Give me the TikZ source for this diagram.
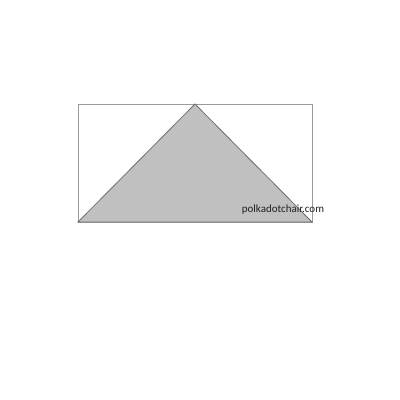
\documentclass[tikz,border=0pt]{standalone}
\usepackage{fontspec}
\setmainfont{Carlito}
\usepackage{tikz}
\definecolor{tri}{HTML}{C0C0C0}
\definecolor{edge}{HTML}{6E6E6E}
\definecolor{frame}{HTML}{9A9A9A}
\definecolor{sitegray}{HTML}{222222}

\begin{document}
\begin{tikzpicture}[x=1bp,y=-1bp]
      \useasboundingbox (0,0) rectangle (400,400);
      % \draw (78,104) rectangle (312,222);
      \coordinate (tl) at (78,104);
      \coordinate (br) at (312,222);
      \coordinate (bl) at (78,222);
      \coordinate (top) at (195,104);
      \draw[frame,line width=0.8bp] (tl) rectangle (br);
      \fill[tri] (bl) -- (top) -- (br) -- cycle;
      \draw[edge,line width=0.8bp] (bl) -- (top) -- (br) -- cycle;
      \node[text=sitegray,font=\fontsize{11bp}{13bp}\selectfont,inner sep=0pt] (site) at (283,209.5) {polkadotchair.com};
\end{tikzpicture}
\end{document}
